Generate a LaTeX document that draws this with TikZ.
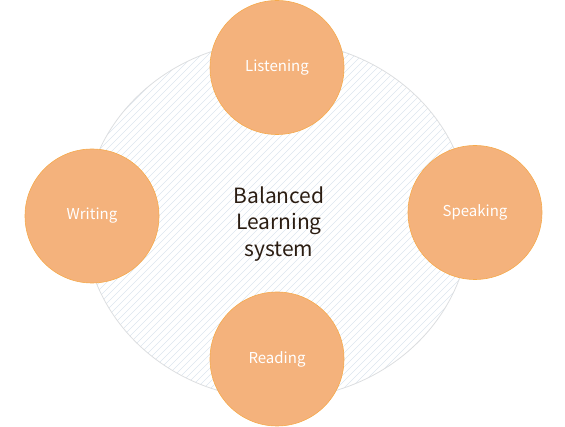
\documentclass[tikz,border=0pt]{standalone}
\usepackage{fontspec}
\setmainfont{Noto Sans CJK KR}
\usepackage{xcolor}
\usepackage{tikz}
\usetikzlibrary{shapes.geometric}

\definecolor{skillfill}{HTML}{F4B27C}
\definecolor{skillline}{HTML}{F6AA4C}
\definecolor{hubline}{HTML}{DCDEE0}
\definecolor{hubhatch}{HTML}{DDE5EE}
\definecolor{hubtext}{HTML}{2B1D12}

\begin{document}
\begin{tikzpicture}[
    x=1pt, y=1pt,
    hub/.style={ellipse, draw=hubline, line width=0.8pt, minimum width=386pt, minimum height=358pt},
    hatch/.style={draw=hubhatch, line width=0.5pt},
    hubtitle/.style={align=center, text=hubtext, font=\fontsize{21}{26.5}\selectfont},
    skill/.style={circle, draw=skillline, fill=skillfill, line width=0.6pt, minimum size=134pt, inner sep=0pt, text=white, font=\fontsize{15}{18}\selectfont}
]
    \useasboundingbox (0,0) rectangle (565,-427);

    % striped disc behind everything
    \begin{scope}
        \clip (277,-220) ellipse [x radius=193, y radius=179];
        \foreach \k in {-240,-233,...,480}
            \draw [hatch] (\k,-440) -- ++(460,460);
    \end{scope}
    \node [hub] (sys) at (277,-220) {};
    \node [hubtitle] (title) at (279,-224) {Balanced\\Learning\\system};

    \node [skill] (listen) at (277,-67.5) {Listening};
    \node [skill] (write) at (92,-216) {Writing};
    \node [skill] (speak) at (475,-212.5) {Speaking};
    \node [skill] (read) at (277,-359) {Reading};
\end{tikzpicture}
\end{document}
